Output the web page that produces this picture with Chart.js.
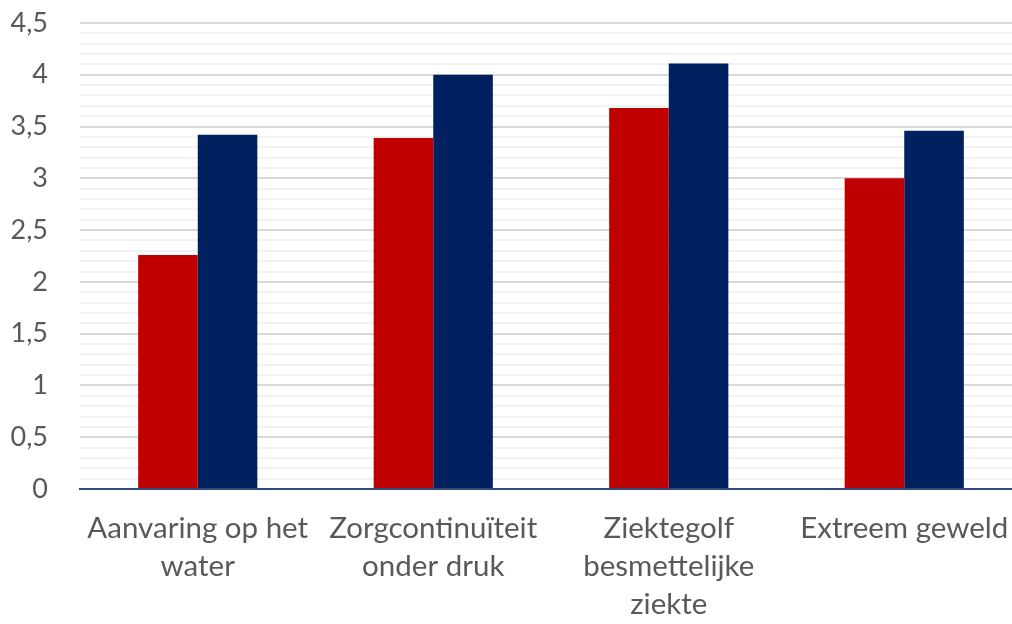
<!DOCTYPE html>
<html>
<head>
<meta charset="utf-8">
<script src="https://cdn.jsdelivr.net/npm/chart.js@4/dist/chart.umd.min.js"></script>
<style>
  html, body { margin: 0; padding: 0; background: #fff; overflow: hidden; }
  #wrap { width: 1022px; height: 624px; }
</style>
</head>
<body>
<div id="wrap"><canvas id="chart"></canvas></div>
<script>
const categories = [
  ["Aanvaring op het", "water"],
  ["Zorgcontinuïteit", "onder druk"],
  ["Ziektegolf", "besmettelijke", "ziekte"],
  "Extreem geweld",
];
const redValues = [2.26, 3.39, 3.68, 3.0];
const blueValues = [3.42, 4.0, 4.11, 3.46];
const yMax = 4.5;

const ctx = document.getElementById("chart");

function formatTick(value) {
  const v = Math.round(value * 10) / 10;
  if (Math.round(v * 10) % 5 !== 0) {
    return "";
  }
  return String(v).replace(".", ",");
}

new Chart(ctx, {
  type: "bar",
  data: {
    labels: categories,
    datasets: [
      {
        label: "Reeks 1",
        data: redValues,
        backgroundColor: "#C00000",
        barPercentage: 1,
        categoryPercentage: 0.506,
      },
      {
        label: "Reeks 2",
        data: blueValues,
        backgroundColor: "#002060",
        barPercentage: 1,
        categoryPercentage: 0.506,
      },
    ],
  },
  options: {
    responsive: true,
    maintainAspectRatio: false,
    animation: false,
    layout: {
      padding: { top: 23, right: 0, left: 0, bottom: 0 },
    },
    plugins: {
      legend: { display: false },
      tooltip: { enabled: false },
    },
    scales: {
      x: {
        grid: { display: false },
        border: { color: "#2F4B7C", width: 2 },
        ticks: {
          color: "#595959",
          font: { family: "Lato", size: 29.5, lineHeight: 1.3 },
          padding: 12,
          maxRotation: 0,
          autoSkip: false,
        },
        afterFit(scale) {
          scale.height = 135;
        },
      },
      y: {
        min: 0,
        max: yMax,
        border: { display: false },
        grid: {
          drawTicks: false,
          color(c) {
            const v = Math.round(c.tick.value * 10);
            if (v === 0) return "#2F4B7C";
            return v % 5 === 0 ? "#D9D9D9" : "#F2F2F2";
          },
          lineWidth: 2,
        },
        ticks: {
          stepSize: 0.1,
          autoSkip: false,
          color: "#595959",
          font: { family: "Lato", size: 27 },
          padding: 32,
          callback: formatTick,
        },
        afterFit(scale) {
          scale.width = 80;
          scale.paddingTop = 0;
          scale.paddingBottom = 0;
        },
      },
    },
  },
});
</script>
</body>
</html>
